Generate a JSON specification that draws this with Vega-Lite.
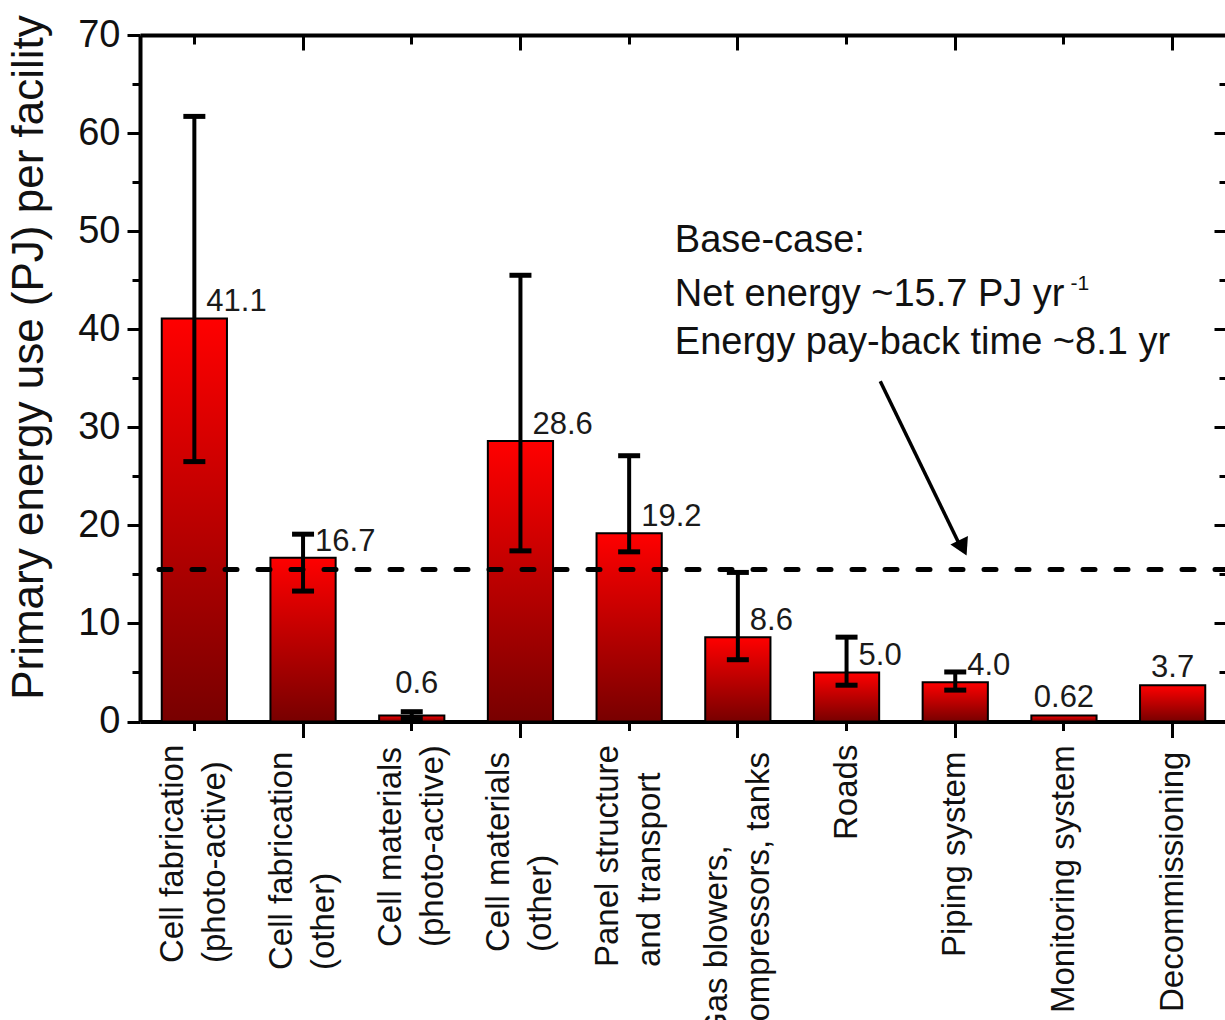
{
  "$schema": "https://vega.github.io/schema/vega-lite/v6.json",
  "width": 1087,
  "height": 686.5,
  "autosize": {"type": "none"},
  "padding": {"left": 140, "top": 35, "right": 0, "bottom": 300},
  "background": "white",
  "config": {
    "view": {"stroke": null},
    "font": "Liberation Sans",
    "axis": {"grid": false, "domainColor": "black", "tickColor": "black", "labelFont": "Liberation Sans", "titleFont": "Liberation Sans", "labelColor": "#111", "titleColor": "#111"}
  },
  "datasets": {
    "bars": [
      {"cat": "Cell fabrication|(photo-active)", "value": 41.1, "label": "41.1", "lo": 26.5, "hi": 61.7},
      {"cat": "Cell fabrication|(other)", "value": 16.7, "label": "16.7", "lo": 13.3, "hi": 19.1},
      {"cat": "Cell materials|(photo-active)", "value": 0.6, "label": "0.6", "lo": 0.3, "hi": 1.0},
      {"cat": "Cell materials|(other)", "value": 28.6, "label": "28.6", "lo": 17.4, "hi": 45.5},
      {"cat": "Panel structure|and transport", "value": 19.2, "label": "19.2", "lo": 17.3, "hi": 27.1},
      {"cat": "Gas blowers,|compressors, tanks", "value": 8.6, "label": "8.6", "lo": 6.3, "hi": 15.2},
      {"cat": "Roads", "value": 5.0, "label": "5.0", "lo": 3.7, "hi": 8.6},
      {"cat": "Piping system", "value": 4.0, "label": "4.0", "lo": 3.2, "hi": 5.05},
      {"cat": "Monitoring system", "value": 0.62, "label": "0.62"},
      {"cat": "Decommissioning", "value": 3.7, "label": "3.7"}
    ]
  },
  "resolve": {"scale": {"x": "independent"}, "axis": {"x": "independent", "y": "independent"}},
  "layer": [
    {
      "data": {"name": "bars"},
      "mark": {
        "type": "bar",
        "fill": {"gradient": "linear", "x1": 0, "y1": 0, "x2": 0, "y2": 1, "stops": [{"offset": 0, "color": "#ff0000"}, {"offset": 1, "color": "#780000"}]},
        "stroke": "black",
        "strokeWidth": 2
      },
      "encoding": {
        "x": {
          "field": "cat", "type": "nominal", "sort": null,
          "scale": {"domain": ["Cell fabrication|(photo-active)", "Cell fabrication|(other)", "Cell materials|(photo-active)", "Cell materials|(other)", "Panel structure|and transport", "Gas blowers,|compressors, tanks", "Roads", "Piping system", "Monitoring system", "Decommissioning"], "paddingInner": 0.4, "paddingOuter": 0.2},
          "axis": {
            "orient": "bottom", "title": null, "labelAngle": 270, "labelFontSize": 33, "labelLineHeight": 42,
            "labelAlign": "left", "labelLimit": 600, "labelExpr": "split(datum.value, '|')",
            "labelPadding": {"condition": [
              {"test": "datum.value === 'Cell fabrication|(photo-active)' || datum.value === 'Cell fabrication|(other)'", "value": 232},
              {"test": "datum.value === 'Cell materials|(photo-active)'", "value": 216},
              {"test": "datum.value === 'Cell materials|(other)'", "value": 214},
              {"test": "datum.value === 'Panel structure|and transport'", "value": 236},
              {"test": "datum.value === 'Gas blowers,|compressors, tanks'", "value": 300},
              {"test": "datum.value === 'Roads'", "value": 109},
              {"test": "datum.value === 'Piping system'", "value": 219},
              {"test": "datum.value === 'Monitoring system'", "value": 282}
            ], "value": 274},
            "labelOffset": {"condition": {"test": "indexof(datum.value, '|') >= 0", "value": -21}, "value": 0},
            "tickWidth": 3, "domainWidth": 4,
            "tickSize": {"condition": {"test": "indexof(['Cell fabrication|(other)','Cell materials|(other)','Gas blowers,|compressors, tanks','Piping system','Decommissioning'], datum.value) >= 0", "value": 16}, "value": 9}
          }
        },
        "y": {
          "field": "value", "type": "quantitative",
          "scale": {"domain": [0, 70], "nice": false},
          "axis": {
            "orient": "left", "values": [0, 10, 20, 30, 40, 50, 60, 70], "title": "Primary energy use (PJ) per facility",
            "titleFontSize": 44, "titleFontWeight": "normal", "titlePadding": 26, "titleY": 322,
            "labelFontSize": 38, "labelPadding": 7, "labelFlush": false, "labelOverlap": false, "labelBound": false,
            "tickSize": 13, "tickWidth": 3, "domainWidth": 4
          }
        }
      }
    },
    {
      "data": {"name": "bars"},
      "transform": [{"filter": "isValid(datum.hi)"}],
      "mark": {"type": "rule", "strokeWidth": 4, "color": "black"},
      "encoding": {
        "x": {
          "field": "cat", "type": "nominal", "sort": null,
          "scale": {"domain": ["Cell fabrication|(photo-active)", "Cell fabrication|(other)", "Cell materials|(photo-active)", "Cell materials|(other)", "Panel structure|and transport", "Gas blowers,|compressors, tanks", "Roads", "Piping system", "Monitoring system", "Decommissioning"], "paddingInner": 0.4, "paddingOuter": 0.2},
          "axis": {
            "orient": "top", "title": null, "labels": false, "tickWidth": 3, "domainWidth": 4,
            "tickSize": {"condition": {"test": "indexof(['Cell fabrication|(other)','Cell materials|(other)','Gas blowers,|compressors, tanks','Piping system','Decommissioning'], datum.value) >= 0", "value": -15}, "value": -9}
          }
        },
        "y": {
          "field": "lo", "type": "quantitative",
          "axis": {"orient": "left", "values": [5, 15, 25, 35, 45, 55, 65], "title": null, "labels": false, "domain": false, "tickSize": 8, "tickWidth": 3}
        },
        "y2": {"field": "hi"}
      }
    },
    {
      "data": {"name": "bars"},
      "transform": [{"filter": "isValid(datum.hi)"}, {"fold": ["lo", "hi"], "as": ["end", "ev"]}],
      "mark": {"type": "tick", "size": 22, "thickness": 5, "color": "black", "orient": "horizontal", "opacity": 1},
      "encoding": {
        "x": {
          "field": "cat", "type": "nominal", "sort": null,
          "scale": {"domain": ["Cell fabrication|(photo-active)", "Cell fabrication|(other)", "Cell materials|(photo-active)", "Cell materials|(other)", "Panel structure|and transport", "Gas blowers,|compressors, tanks", "Roads", "Piping system", "Monitoring system", "Decommissioning"], "paddingInner": 0.4, "paddingOuter": 0.2},
          "axis": null
        },
        "y": {
          "field": "ev", "type": "quantitative",
          "axis": {"orient": "right", "values": [0, 10, 20, 30, 40, 50, 60, 70], "title": null, "labels": false, "tickSize": -13, "tickWidth": 3, "domainWidth": 4}
        }
      }
    },
    {
      "data": {"name": "bars"},
      "transform": [{"filter": "isValid(datum.hi) && datum.value > 1"}],
      "mark": {"type": "text", "align": "left", "baseline": "alphabetic", "dx": 12, "dy": -7, "fontSize": 31, "color": "#1a1a1a", "font": "Liberation Sans"},
      "encoding": {
        "x": {
          "field": "cat", "type": "nominal", "sort": null,
          "scale": {"domain": ["Cell fabrication|(photo-active)", "Cell fabrication|(other)", "Cell materials|(photo-active)", "Cell materials|(other)", "Panel structure|and transport", "Gas blowers,|compressors, tanks", "Roads", "Piping system", "Monitoring system", "Decommissioning"], "paddingInner": 0.4, "paddingOuter": 0.2},
          "axis": null
        },
        "y": {
          "field": "value", "type": "quantitative",
          "axis": {"orient": "right", "values": [5, 15, 25, 35, 45, 55, 65], "title": null, "labels": false, "domain": false, "tickSize": -8, "tickWidth": 3}
        },
        "text": {"field": "label"}
      }
    },
    {
      "data": {"name": "bars"},
      "transform": [{"filter": "!isValid(datum.hi)"}],
      "mark": {"type": "text", "align": "center", "baseline": "alphabetic", "dy": -8, "fontSize": 31, "color": "#1a1a1a", "font": "Liberation Sans"},
      "encoding": {
        "x": {
          "field": "cat", "type": "nominal", "sort": null,
          "scale": {"domain": ["Cell fabrication|(photo-active)", "Cell fabrication|(other)", "Cell materials|(photo-active)", "Cell materials|(other)", "Panel structure|and transport", "Gas blowers,|compressors, tanks", "Roads", "Piping system", "Monitoring system", "Decommissioning"], "paddingInner": 0.4, "paddingOuter": 0.2},
          "axis": null
        },
        "y": {"field": "value", "type": "quantitative", "axis": null},
        "text": {"field": "label"}
      }
    },
    {
      "data": {"name": "bars"},
      "transform": [{"filter": "isValid(datum.hi) && datum.value <= 1"}],
      "mark": {"type": "text", "align": "center", "baseline": "alphabetic", "dx": 5, "dy": -19, "fontSize": 31, "color": "#1a1a1a", "font": "Liberation Sans"},
      "encoding": {
        "x": {
          "field": "cat", "type": "nominal", "sort": null,
          "scale": {"domain": ["Cell fabrication|(photo-active)", "Cell fabrication|(other)", "Cell materials|(photo-active)", "Cell materials|(other)", "Panel structure|and transport", "Gas blowers,|compressors, tanks", "Roads", "Piping system", "Monitoring system", "Decommissioning"], "paddingInner": 0.4, "paddingOuter": 0.2},
          "axis": null
        },
        "y": {"field": "hi", "type": "quantitative", "axis": null},
        "text": {"field": "label"}
      }
    },
    {
      "data": {"values": [{}]},
      "mark": {"type": "rule", "strokeWidth": 5, "color": "black", "strokeDash": [12, 21], "strokeCap": "round"},
      "encoding": {"y": {"datum": 15.5, "type": "quantitative", "axis": null}}
    },
    {
      "data": {"values": [{}]},
      "mark": {"type": "rule", "strokeWidth": 3.5, "color": "black"},
      "encoding": {
        "x": {"datum": 6.81, "type": "quantitative", "scale": {"domain": [0, 10], "nice": false, "zero": false}, "axis": null},
        "x2": {"datum": 7.55},
        "y": {"datum": 34.7, "type": "quantitative", "axis": null},
        "y2": {"datum": 17.8}
      }
    },
    {
      "data": {"values": [{}]},
      "mark": {"type": "point", "shape": "triangle-down", "filled": true, "color": "black", "opacity": 1, "size": 380, "angle": -26},
      "encoding": {
        "x": {"datum": 7.57, "type": "quantitative", "scale": {"domain": [0, 10], "nice": false, "zero": false}, "axis": null},
        "y": {"datum": 17.7, "type": "quantitative", "axis": null}
      }
    },
    {
      "data": {"values": [{}]},
      "mark": {"type": "text", "text": "Base-case:", "align": "left", "baseline": "middle", "fontSize": 38, "color": "#111", "font": "Liberation Sans"},
      "encoding": {
        "x": {"datum": 4.92, "type": "quantitative", "scale": {"domain": [0, 10], "nice": false, "zero": false}, "axis": null},
        "y": {"datum": 49.0, "type": "quantitative", "axis": null}
      }
    },
    {
      "data": {"values": [{}]},
      "mark": {"type": "text", "text": "Net energy ~15.7 PJ yr", "align": "left", "baseline": "middle", "fontSize": 38, "color": "#111", "font": "Liberation Sans"},
      "encoding": {
        "x": {"datum": 4.92, "type": "quantitative", "scale": {"domain": [0, 10], "nice": false, "zero": false}, "axis": null},
        "y": {"datum": 43.5, "type": "quantitative", "axis": null}
      }
    },
    {
      "data": {"values": [{}]},
      "mark": {"type": "text", "text": "-1", "align": "left", "baseline": "middle", "fontSize": 21, "color": "#111", "font": "Liberation Sans"},
      "encoding": {
        "x": {"datum": 8.56, "type": "quantitative", "scale": {"domain": [0, 10], "nice": false, "zero": false}, "axis": null},
        "y": {"datum": 44.6, "type": "quantitative", "axis": null}
      }
    },
    {
      "data": {"values": [{}]},
      "mark": {"type": "text", "text": "Energy pay-back time ~8.1 yr", "align": "left", "baseline": "middle", "fontSize": 38, "color": "#111", "font": "Liberation Sans"},
      "encoding": {
        "x": {"datum": 4.92, "type": "quantitative", "scale": {"domain": [0, 10], "nice": false, "zero": false}, "axis": null},
        "y": {"datum": 38.6, "type": "quantitative", "axis": null}
      }
    }
  ]
}
